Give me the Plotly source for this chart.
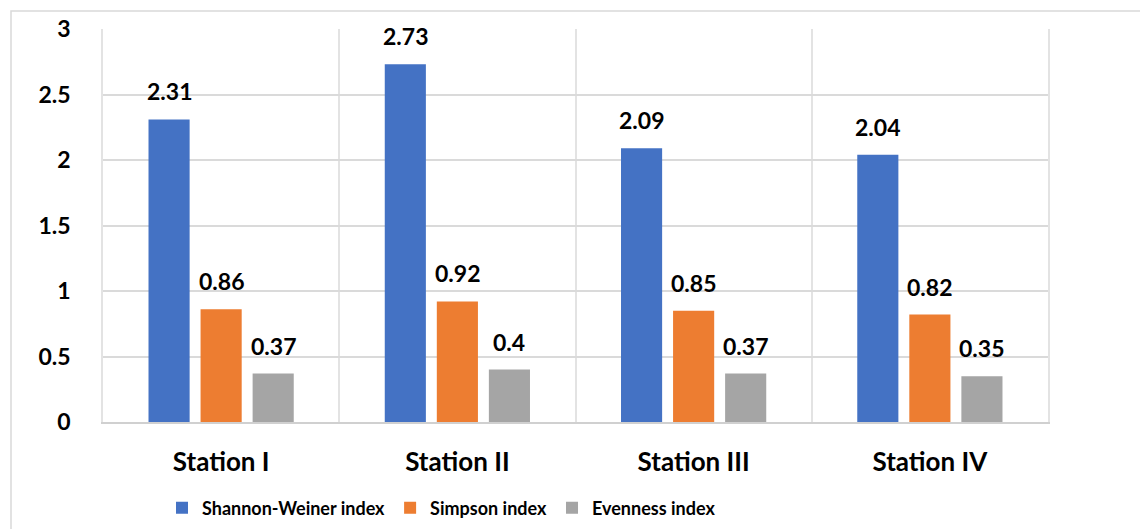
import plotly.graph_objects as go

# Diversity indices per sampling station
stations = ["Station I", "Station II", "Station III", "Station IV"]
shannon = [2.31, 2.73, 2.09, 2.04]
simpson = [0.86, 0.92, 0.85, 0.82]
evenness = [0.37, 0.4, 0.37, 0.35]

series = [
    ("Shannon-Weiner index", shannon, "#4472C4"),
    ("Simpson index", simpson, "#ED7D31"),
    ("Evenness index", evenness, "#A5A5A5"),
]

FONT = "Lato"
W, H = 1140, 529
ML, MR, MT, MB = 103, 92, 29, 107
PW, PH = W - ML - MR, H - MT - MB

fig = go.Figure()
for name, vals, color in series:
    fig.add_trace(go.Bar(x=stations, y=vals, name=name, marker_color=color,
                         marker_line_width=0))

# value labels above each bar
slot = (1 - 0.339) * PW / len(stations) / len(series)
for i, (name, vals, color) in enumerate(series):
    for st, v in zip(stations, vals):
        fig.add_annotation(x=st, y=v, text=f"{v:g}", showarrow=False,
                           xshift=(i - 1) * slot, yshift=12, yanchor="bottom",
                           font=dict(family=FONT, size=23, color="black",
                                     weight="bold"))

# outer chart border
fig.add_shape(type="rect", xref="paper", yref="paper",
              x0=(11 - ML) / PW, x1=(W + 10 - ML) / PW,
              y0=(MT + PH - (H + 10)) / PH, y1=(MT + PH - 11) / PH,
              line=dict(color="#D9D9D9", width=1.5), fillcolor="rgba(0,0,0,0)",
              layer="below")

bold = dict(family=FONT, color="black", weight="bold")

fig.update_layout(
    width=W, height=H,
    margin=dict(l=ML, r=MR, t=MT, b=MB, autoexpand=False),
    paper_bgcolor="white", plot_bgcolor="white",
    barmode="group", bargap=0.339, bargroupgap=0.21,
    font=dict(family=FONT, color="black"),
    showlegend=True,
    legend=dict(orientation="h", x=(162 - ML) / PW, xanchor="left",
                y=(MT + PH - 508) / PH, yanchor="middle",
                font=dict(bold, size=18),
                itemwidth=30, traceorder="normal"),
    xaxis=dict(tickson="boundaries", showgrid=True, gridcolor="#E3E3E3",
               gridwidth=1.5, showline=True, linecolor="#D0D0D0", linewidth=2,
               ticks="", ticklabelstandoff=16,
               tickfont=dict(bold, size=26)),
    yaxis=dict(range=[0, 3], dtick=0.5, showgrid=True, gridcolor="#DADADA",
               gridwidth=1.5, zeroline=False, showline=True, mirror=True,
               linecolor="#E3E3E3", linewidth=1.5, ticks="",
               ticklabelstandoff=26, tickformat="~g",
               tickfont=dict(bold, size=23)),
)

fig.write_html("out.html")
